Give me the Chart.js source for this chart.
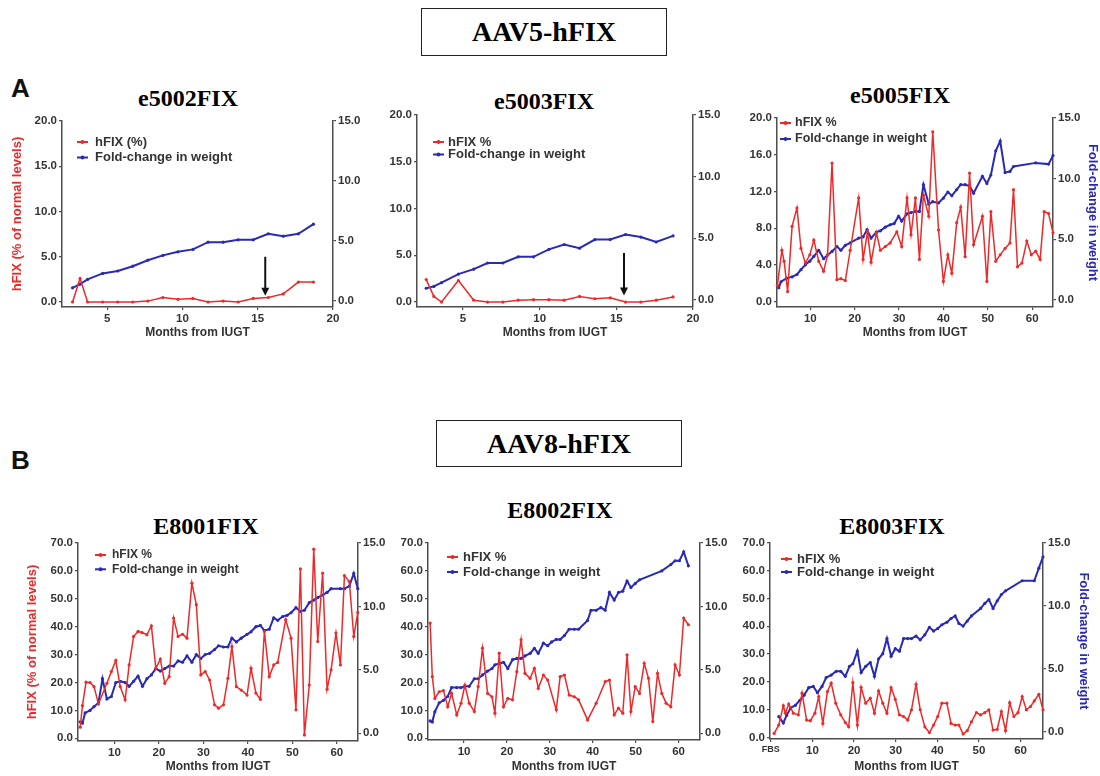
<!DOCTYPE html>
<html>
<head>
<meta charset="utf-8">
<script src="https://cdn.jsdelivr.net/npm/chart.js@4.4.1/dist/chart.umd.min.js"></script>
<style>
  body { margin: 0; width: 1100px; height: 776px; background: #fff; position: relative; overflow: hidden; }
  canvas { position: absolute; }
  .t { position: absolute; font-family: "Liberation Serif", "Times New Roman", serif; font-weight: bold; font-size: 24px; line-height: 1; color: #000; transform: translate(-50%, -50%); white-space: nowrap; }
  .box { position: absolute; border: 1.5px solid #222; box-sizing: border-box; display: flex; align-items: center; justify-content: center;
         font-family: "Liberation Serif", "Times New Roman", serif; font-weight: bold; font-size: 28px; color: #000; }
  .lab { position: absolute; font-family: Arial, "Liberation Sans", sans-serif; font-weight: bold; font-size: 26px; line-height: 1; color: #111; }
</style>
</head>
<body>
<div class="box" style="left:421px;top:8px;width:246px;height:48px;">AAV5-hFIX</div>
<div class="box" style="left:436px;top:420px;width:246px;height:47px;">AAV8-hFIX</div>
<div class="lab" style="left:11px;top:75px;">A</div>
<div class="lab" style="left:11px;top:447px;">B</div>
<div class="t" style="left:188px;top:98px;">e5002FIX</div>
<div class="t" style="left:544px;top:101px;">e5003FIX</div>
<div class="t" style="left:900px;top:95px;">e5005FIX</div>
<div class="t" style="left:206px;top:526px;">E8001FIX</div>
<div class="t" style="left:560px;top:510px;">E8002FIX</div>
<div class="t" style="left:892px;top:526px;">E8003FIX</div>

<script>
// ---- data ----
const e5002Months = [2.7, 3.2, 3.7, 4.7, 5.7, 6.7, 7.7, 8.7, 9.7, 10.7, 11.7, 12.7, 13.7, 14.7, 15.7, 16.7, 17.7, 18.7];
const e5002Hfix = [0, 2.6, 0, 0, 0, 0, 0.1, 0.5, 0.3, 0.4, 0, 0.1, 0, 0.4, 0.5, 0.9, 2.2, 2.2];
const e5002Weight = [1.1, 1.4, 1.8, 2.3, 2.5, 2.9, 3.4, 3.8, 4.1, 4.3, 4.9, 4.9, 5.1, 5.1, 5.6, 5.4, 5.6, 6.4];
const e5002Arrow = { month: 15.5, from: 5.0, to: 0.7 };

const e5003Months = [2.6, 3.1, 3.6, 4.7, 5.7, 6.6, 7.6, 8.6, 9.6, 10.6, 11.6, 12.6, 13.6, 14.6, 15.6, 16.6, 17.6, 18.7];
const e5003Hfix = [2.4, 0.6, 0, 2.3, 0.2, 0, 0, 0.2, 0.25, 0.25, 0.2, 0.6, 0.35, 0.45, 0, 0, 0.2, 0.55];
const e5003Weight = [0.95, 1.1, 1.4, 2.1, 2.5, 3.0, 3.0, 3.5, 3.5, 4.1, 4.5, 4.2, 4.9, 4.9, 5.3, 5.1, 4.7, 5.2];
const e5003Arrow = { month: 15.5, from: 5.25, to: 0.7 };

const e5005HfixMonths = [2.6, 3.6, 4.1, 4.9, 5.9, 7.0, 7.9, 8.9, 9.9, 10.8, 11.9, 13.0, 13.9, 14.9, 16.0, 16.9, 17.9, 19.0, 20.9, 21.9, 22.9, 23.7, 24.9, 25.8, 26.9, 28.0, 29.5, 30.6, 31.8, 32.7, 33.7, 34.6, 35.5, 36.7, 37.6, 38.9, 40.0, 41.0, 41.9, 43.0, 43.9, 44.9, 45.9, 46.8, 48.8, 49.8, 50.7, 51.8, 52.8, 53.9, 55.0, 55.8, 56.7, 57.7, 58.8, 59.8, 60.8, 61.8, 62.7, 63.7, 64.7];
const e5005Hfix = [1.8, 5.6, 4.4, 1.1, 8.2, 10.2, 5.8, 4.2, 5.1, 6.7, 4.4, 3.3, 5.1, 15.1, 2.4, 2.5, 2.3, 5.6, 11.3, 4.6, 7.6, 4.3, 7.5, 5.6, 6.0, 6.4, 7.6, 6.0, 11.3, 7.3, 11.3, 4.6, 11.6, 9.3, 18.5, 7.8, 2.2, 5.1, 3.1, 8.6, 10.3, 4.9, 14.0, 6.2, 9.3, 2.2, 9.8, 4.4, 5.1, 5.8, 6.4, 12.2, 3.8, 4.2, 6.6, 5.1, 5.5, 4.6, 9.8, 9.6, 7.5];
const e5005WeightMonths = [2.9, 3.4, 4.7, 5.9, 7.0, 7.9, 8.9, 9.9, 10.8, 11.9, 13.0, 13.9, 14.9, 16.0, 16.9, 17.9, 19.0, 20.9, 21.9, 22.8, 23.7, 24.9, 25.8, 26.9, 28.0, 28.9, 29.9, 30.6, 31.8, 32.7, 33.7, 34.6, 35.5, 36.7, 37.6, 38.9, 40.0, 41.0, 41.9, 43.0, 43.9, 44.9, 45.9, 46.8, 48.8, 49.8, 50.7, 51.8, 52.8, 53.9, 55.0, 55.8, 60.8, 63.7, 64.7];
const e5005Weight = [1.0, 1.5, 1.8, 1.9, 2.1, 2.5, 2.9, 3.2, 3.6, 4.1, 3.4, 3.7, 4.0, 4.4, 4.1, 4.5, 4.7, 5.1, 5.2, 5.8, 5.1, 5.6, 5.7, 6.0, 6.2, 6.3, 6.9, 6.5, 7.1, 7.2, 7.3, 7.3, 9.5, 7.9, 8.1, 8.0, 8.4, 8.9, 8.6, 9.1, 9.5, 9.5, 9.4, 8.8, 10.2, 9.6, 10.3, 12.3, 13.1, 10.5, 10.6, 11.0, 11.3, 11.2, 11.9];

const e8001HfixMonths = [2.3, 2.8, 3.6, 4.5, 5.4, 6.4, 8.3, 9.3, 10.3, 11.3, 12.4, 13.3, 14.3, 15.3, 16.2, 17.3, 18.3, 19.3, 20.3, 21.3, 22.3, 23.3, 24.3, 25.3, 26.3, 27.4, 28.4, 29.4, 30.4, 31.4, 32.5, 33.4, 34.5, 35.5, 36.4, 37.4, 38.5, 39.8, 40.7, 41.8, 42.8, 43.7, 44.8, 45.8, 46.7, 48.5, 49.7, 50.8, 51.8, 52.7, 53.8, 54.8, 55.7, 56.8, 57.8, 58.7, 59.8, 60.8, 61.7, 62.8, 63.8, 64.7];
const e8001Hfix = [4.0, 11.7, 20.1, 20.0, 18.5, 12.3, 19.7, 23.9, 27.9, 18.5, 13.8, 26.3, 36.5, 38.3, 37.9, 37.1, 40.3, 25.1, 28.4, 19.7, 22.1, 43.1, 36.5, 37.3, 35.9, 55.6, 47.9, 22.7, 23.9, 20.9, 12.0, 10.8, 12.0, 21.5, 32.9, 18.5, 17.3, 15.5, 25.1, 16.2, 14.0, 38.3, 22.1, 26.3, 27.2, 42.5, 35.9, 10.2, 60.7, 1.2, 19.1, 67.8, 34.7, 59.2, 17.6, 24.5, 37.7, 26.3, 58.3, 56.2, 36.5, 45.1];
const e8001WeightMonths = [2.3, 2.8, 3.4, 4.5, 5.4, 6.4, 7.3, 8.3, 9.3, 10.3, 11.3, 12.4, 13.3, 14.3, 15.3, 16.3, 17.3, 18.3, 19.3, 20.3, 21.3, 22.3, 23.3, 24.3, 25.3, 26.3, 27.4, 28.4, 29.4, 30.4, 31.4, 32.5, 33.4, 34.5, 35.5, 36.4, 37.4, 38.5, 39.8, 40.7, 41.8, 42.8, 43.7, 44.8, 45.8, 46.7, 47.8, 48.8, 49.7, 50.8, 51.8, 52.7, 53.8, 54.8, 55.7, 56.8, 57.8, 58.7, 60.8, 61.7, 62.8, 63.8, 64.7];
const e8001Weight = [0.9, 0.8, 1.6, 1.8, 2.1, 2.4, 4.3, 2.7, 2.9, 4.0, 4.1, 4.0, 3.7, 4.1, 4.5, 3.7, 4.3, 4.6, 5.1, 4.9, 5.1, 5.3, 5.3, 5.7, 5.6, 6.1, 5.6, 6.2, 5.9, 6.2, 6.3, 6.6, 6.9, 6.8, 6.8, 7.5, 7.2, 7.5, 7.8, 8.0, 8.4, 8.5, 8.1, 8.2, 9.1, 8.9, 9.2, 9.3, 9.5, 9.9, 9.6, 9.7, 10.3, 10.5, 10.7, 10.9, 11.1, 11.4, 11.4, 11.4, 11.6, 12.6, 11.4];

const e8002HfixMonths = [2.1, 2.6, 3.2, 4.2, 5.2, 6.2, 7.1, 8.3, 9.3, 10.2, 11.2, 12.4, 13.3, 14.3, 15.5, 16.5, 17.2, 18.2, 19.2, 20.2, 21.3, 22.3, 23.3, 24.2, 25.4, 26.4, 27.3, 28.5, 29.5, 31.5, 32.4, 33.4, 34.5, 35.7, 36.7, 38.8, 40.8, 42.9, 43.9, 45.0, 46.0, 47.0, 48.0, 48.9, 49.9, 50.9, 52.0, 53.0, 54.0, 55.1, 56.1, 57.1, 58.2, 59.2, 60.2, 61.2, 62.3];
const e8002Hfix = [41.3, 22.1, 14.3, 16.7, 17.1, 11.3, 16.1, 8.4, 12.6, 19.1, 12.6, 9.6, 18.5, 32.3, 16.1, 14.9, 9.0, 30.5, 11.3, 14.3, 13.8, 23.9, 35.3, 23.3, 21.5, 25.1, 17.9, 22.7, 20.9, 10.2, 22.1, 22.7, 15.5, 14.9, 13.8, 6.6, 12.6, 20.3, 20.9, 8.4, 10.8, 9.0, 29.9, 9.6, 18.5, 16.1, 26.9, 21.5, 6.0, 23.3, 16.1, 12.6, 11.3, 26.3, 22.7, 43.1, 40.7];
const e8002WeightMonths = [2.1, 2.6, 3.2, 4.2, 5.2, 6.2, 7.1, 8.3, 9.3, 10.2, 11.2, 12.4, 13.3, 14.3, 15.5, 16.5, 17.2, 18.2, 19.2, 20.2, 21.3, 22.3, 23.3, 24.2, 25.4, 26.4, 27.3, 28.5, 29.5, 30.4, 31.5, 32.4, 33.4, 34.5, 35.7, 36.7, 38.8, 39.6, 40.8, 41.9, 42.9, 43.9, 45.0, 46.0, 47.0, 48.0, 48.9, 49.9, 50.9, 56.1, 58.2, 59.2, 60.2, 61.2, 62.3];
const e8002Weight = [0.97, 0.89, 1.7, 2.4, 2.6, 2.9, 3.6, 3.6, 3.6, 3.7, 3.7, 4.3, 4.3, 4.6, 4.9, 5.1, 5.4, 5.5, 5.6, 5.1, 5.8, 5.9, 5.9, 6.1, 6.3, 6.7, 6.3, 7.1, 6.9, 7.2, 7.4, 7.4, 7.7, 8.2, 8.2, 8.2, 8.9, 9.7, 9.7, 9.9, 9.7, 11.1, 10.5, 11.1, 11.2, 12.0, 11.5, 11.8, 12.1, 12.8, 13.3, 13.6, 13.6, 14.3, 13.2];

const e8003HfixMonths = [0.8, 1.9, 3.0, 3.5, 4.3, 5.4, 6.6, 7.5, 8.6, 9.5, 10.6, 11.5, 12.5, 13.6, 14.5, 15.6, 16.8, 17.9, 18.7, 19.7, 20.8, 21.7, 22.8, 23.9, 24.9, 25.9, 26.9, 27.9, 28.9, 29.9, 30.9, 31.9, 32.9, 33.8, 34.9, 35.9, 37.0, 38.1, 39.1, 40.1, 41.1, 42.3, 43.3, 44.3, 45.2, 46.2, 47.2, 48.2, 49.4, 50.4, 51.4, 52.4, 53.4, 54.4, 55.4, 56.4, 57.4, 58.4, 59.4, 60.4, 61.4, 62.4, 63.3, 64.4, 65.4];
const e8003Hfix = [1.4, 4.4, 11.4, 8.7, 12.0, 8.7, 8.1, 15.9, 6.2, 6.0, 8.7, 14.7, 5.0, 16.5, 19.5, 12.3, 8.1, 5.3, 3.8, 19.7, 4.4, 18.0, 12.3, 14.1, 8.7, 16.7, 12.3, 8.7, 17.9, 13.7, 8.1, 7.5, 6.2, 9.9, 19.1, 9.9, 3.8, 1.7, 4.4, 7.5, 12.3, 12.3, 5.0, 4.4, 4.4, 1.2, 2.4, 5.6, 8.9, 8.1, 8.9, 9.9, 2.6, 2.9, 9.3, 2.4, 12.5, 7.5, 8.9, 14.7, 9.9, 11.1, 13.1, 15.5, 9.9];
const e8003WeightMonths = [1.9, 3.0, 3.8, 4.8, 5.9, 7.0, 8.0, 9.1, 10.2, 11.2, 12.3, 13.3, 14.5, 15.7, 16.8, 17.9, 18.9, 19.7, 20.8, 21.7, 22.8, 23.9, 24.9, 25.9, 26.9, 27.9, 28.9, 29.9, 30.9, 31.9, 32.9, 33.8, 34.9, 35.9, 37.0, 38.1, 39.1, 40.1, 41.1, 42.3, 43.3, 44.3, 45.2, 46.2, 47.2, 48.2, 50.4, 51.4, 52.4, 53.4, 54.4, 55.4, 56.4, 60.4, 63.3, 64.4, 65.4];
const e8003Weight = [1.2, 0.7, 1.3, 1.9, 2.1, 2.5, 2.9, 3.5, 3.6, 3.1, 3.6, 4.3, 4.5, 4.8, 4.8, 4.4, 5.2, 5.4, 6.4, 4.7, 5.2, 5.5, 4.4, 5.8, 6.2, 7.4, 6.0, 6.6, 6.4, 7.4, 7.4, 7.4, 7.6, 7.3, 7.7, 8.3, 8.0, 8.2, 8.5, 8.7, 9.0, 9.2, 8.6, 8.4, 8.8, 9.2, 9.8, 10.2, 10.5, 9.8, 10.4, 10.9, 11.2, 12.0, 12.0, 13.0, 13.9];

// tick labels
const ticksHfix20 = [0, 5, 10, 15, 20];
const ticksHfix20b = [0, 4, 8, 12, 16, 20];
const ticksHfix70 = [0, 10, 20, 30, 40, 50, 60, 70];
const ticksWeight = [0, 5, 10, 15];
const ticksMonths20 = [5, 10, 15, 20];
const ticksMonths65 = [10, 20, 30, 40, 50, 60];
const ticksMonthsFbs = [0, 10, 20, 30, 40, 50, 60];

// ---- drawing ----
Chart.defaults.font.family = 'Arial, "Liberation Sans", sans-serif';
Chart.defaults.color = '#333';
const AXIS = '#4d4d4d';
const RED = '#ec2a2a';
const BLUE = '#2a2ab4';

function pts(xs, ys) {
  return xs.map((x, i) => ({ x: x, y: ys[i] }));
}

function yScale(pos, range, ticks, width, title, titleColor) {
  return {
    type: 'linear',
    position: pos,
    min: range[0],
    max: range[1],
    afterBuildTicks: s => { s.ticks = ticks.map(v => ({ value: v })); },
    afterFit: s => { s.width = width; s.paddingTop = 0; s.paddingBottom = 0; },
    grid: { drawOnChartArea: false, tickLength: 3, color: AXIS, lineWidth: 1.2 },
    border: { color: AXIS, width: 1.5 },
    ticks: { padding: 2, color: '#333', font: { size: 11.5, weight: 'bold' }, callback: v => v.toFixed(1) },
    title: { display: !!title, text: title || '', color: titleColor, padding: 0, font: { size: 13, weight: 'bold' } }
  };
}

function xScale(range, ticks, height) {
  return {
    type: 'linear',
    min: range[0],
    max: range[1],
    afterBuildTicks: s => { s.ticks = ticks.map(v => ({ value: v })); },
    afterFit: s => { s.height = height; s.paddingLeft = 0; s.paddingRight = 0; },
    grid: { drawOnChartArea: false, tickLength: 3, color: AXIS, lineWidth: 1.2 },
    border: { color: AXIS, width: 1.5 },
    ticks: {
      autoSkip: false, maxRotation: 0, padding: 2, color: '#333',
      font: c => ({ size: c.tick && c.tick.value === 0 ? 9 : 11.5, weight: 'bold' }),
      callback: v => (v === 0 ? 'FBS' : v)
    },
    title: { display: true, text: 'Months from IUGT', color: '#333', padding: 0, font: { size: 12, weight: 'bold' } }
  };
}

// legend drawn inside the plot area, top left
const insideLegend = {
  id: 'insideLegend',
  afterDraw(chart, args, o) {
    const { ctx, chartArea } = chart;
    ctx.save();
    ctx.font = 'bold ' + o.size + 'px Arial, "Liberation Sans", sans-serif';
    ctx.textBaseline = 'middle';
    chart.data.datasets.forEach((ds, i) => {
      const x = chartArea.left + o.dx;
      const y = chartArea.top + o.dy + i * o.gap;
      ctx.strokeStyle = ds.borderColor;
      ctx.lineWidth = 2;
      ctx.beginPath();
      ctx.moveTo(x, y);
      ctx.lineTo(x + 11, y);
      ctx.stroke();
      ctx.fillStyle = ds.borderColor;
      ctx.beginPath();
      ctx.arc(x + 5.5, y, 2, 0, Math.PI * 2);
      ctx.fill();
      ctx.fillStyle = '#333';
      ctx.fillText(ds.label, chartArea.left + o.tx, y);
    });
    ctx.restore();
  }
};

// arrow marking the time point
const arrowMark = {
  id: 'arrowMark',
  afterDatasetsDraw(chart, args, o) {
    if (!o || o.month == null) return;
    const ctx = chart.ctx;
    const x = chart.scales.x.getPixelForValue(o.month);
    const y0 = chart.scales.y.getPixelForValue(o.from);
    const y1 = chart.scales.y.getPixelForValue(o.to);
    ctx.save();
    ctx.strokeStyle = '#111';
    ctx.fillStyle = '#111';
    ctx.lineWidth = 2;
    ctx.beginPath();
    ctx.moveTo(x, y0);
    ctx.lineTo(x, y1 - 6);
    ctx.stroke();
    ctx.beginPath();
    ctx.moveTo(x - 4, y1 - 8);
    ctx.lineTo(x + 4, y1 - 8);
    ctx.lineTo(x, y1);
    ctx.closePath();
    ctx.fill();
    ctx.restore();
  }
};

const panels = [
  { area: [62, 121, 333, 307], lw: 52, rw: 32, xh: 33,
    hfix: pts(e5002Months, e5002Hfix), weight: pts(e5002Months, e5002Weight), label: 'hFIX (%)',
    x: [2, 20], xt: ticksMonths20, yl: [-0.55, 20], ylt: ticksHfix20, yr: [-0.5, 15],
    leftTitle: 'hFIX (% of normal levels)', rightTitle: null,
    legend: { dx: 15, tx: 33, dy: 21, gap: 15.5, size: 13 }, arrow: e5002Arrow },
  { area: [417, 115, 693, 307], lw: 32, rw: 32, xh: 33,
    hfix: pts(e5003Months, e5003Hfix), weight: pts(e5003Months, e5003Weight), label: 'hFIX %',
    x: [2, 20], xt: ticksMonths20, yl: [-0.53, 20], ylt: ticksHfix20, yr: [-0.57, 15],
    leftTitle: null, rightTitle: null,
    legend: { dx: 16, tx: 31, dy: 27, gap: 12.5, size: 13 }, arrow: e5003Arrow },
  { area: [777, 118, 1053, 307], lw: 32, rw: 47, xh: 33,
    hfix: pts(e5005HfixMonths, e5005Hfix), weight: pts(e5005WeightMonths, e5005Weight), label: 'hFIX %',
    x: [2.5, 64.7], xt: ticksMonths65, yl: [-0.58, 20], ylt: ticksHfix20b, yr: [-0.58, 15],
    leftTitle: null, rightTitle: 'Fold-change in weight',
    legend: { dx: 3, tx: 18, dy: 5, gap: 16, size: 12.5 } },
  { area: [78, 543, 358, 741], lw: 53, rw: 32, xh: 33,
    hfix: pts(e8001HfixMonths, e8001Hfix), weight: pts(e8001WeightMonths, e8001Weight), label: 'hFIX %',
    x: [1.8, 64.75], xt: ticksMonths65, yl: [-0.97, 70], ylt: ticksHfix70, yr: [-0.61, 15],
    leftTitle: 'hFIX (% of normal levels)', rightTitle: null,
    legend: { dx: 17, tx: 34, dy: 12, gap: 14.3, size: 12 } },
  { area: [428, 543, 700, 740], lw: 35, rw: 32, xh: 34,
    hfix: pts(e8002HfixMonths, e8002Hfix), weight: pts(e8002WeightMonths, e8002Weight), label: 'hFIX %',
    x: [1.6, 65], xt: ticksMonths65, yl: [-0.6, 70], ylt: ticksHfix70, yr: [-0.53, 15],
    leftTitle: null, rightTitle: null,
    legend: { dx: 19, tx: 35, dy: 14, gap: 15, size: 13 } },
  { area: [770, 543, 1043, 739], lw: 35, rw: 48, xh: 35,
    hfix: pts(e8003HfixMonths, e8003Hfix), weight: pts(e8003WeightMonths, e8003Weight), label: 'hFIX %',
    x: [-0.2, 65.4], xt: ticksMonthsFbs, yl: [-0.6, 70], ylt: ticksHfix70, yr: [-0.58, 15],
    leftTitle: null, rightTitle: 'Fold-change in weight',
    legend: { dx: 11, tx: 27, dy: 16, gap: 13, size: 13 } }
];

const TOP_PAD = 10;

panels.forEach(p => {
  const [L, T, R, B] = p.area;
  const cv = document.createElement('canvas');
  cv.width = p.lw + (R - L) + p.rw;
  cv.height = TOP_PAD + (B - T) + p.xh;
  cv.style.left = (L - p.lw) + 'px';
  cv.style.top = (T - TOP_PAD) + 'px';
  cv.style.width = cv.width + 'px';
  cv.style.height = cv.height + 'px';
  document.body.appendChild(cv);

  new Chart(cv.getContext('2d'), {
    type: 'line',
    data: {
      datasets: [
        { label: p.label, data: p.hfix, yAxisID: 'y', borderColor: RED, backgroundColor: RED,
          borderWidth: 1.5, pointRadius: 1.6, pointBorderWidth: 0, pointBackgroundColor: RED, tension: 0, clip: false },
        { label: 'Fold-change in weight', data: p.weight, yAxisID: 'y1', borderColor: BLUE, backgroundColor: BLUE,
          borderWidth: 2, pointRadius: 1.6, pointBorderWidth: 0, pointBackgroundColor: BLUE, tension: 0, clip: false }
      ]
    },
    options: {
      responsive: false,
      animation: false,
      devicePixelRatio: 1,
      layout: { autoPadding: false, padding: { top: TOP_PAD, left: 0, right: 0, bottom: 0 } },
      plugins: {
        legend: { display: false },
        tooltip: { enabled: false },
        insideLegend: p.legend,
        arrowMark: p.arrow || {}
      },
      scales: {
        x: xScale(p.x, p.xt, p.xh),
        y: yScale('left', p.yl, p.ylt, p.lw, p.leftTitle, RED),
        y1: yScale('right', p.yr, ticksWeight, p.rw, p.rightTitle, BLUE)
      }
    },
    plugins: [insideLegend, arrowMark]
  });
});
</script>
</body>
</html>
